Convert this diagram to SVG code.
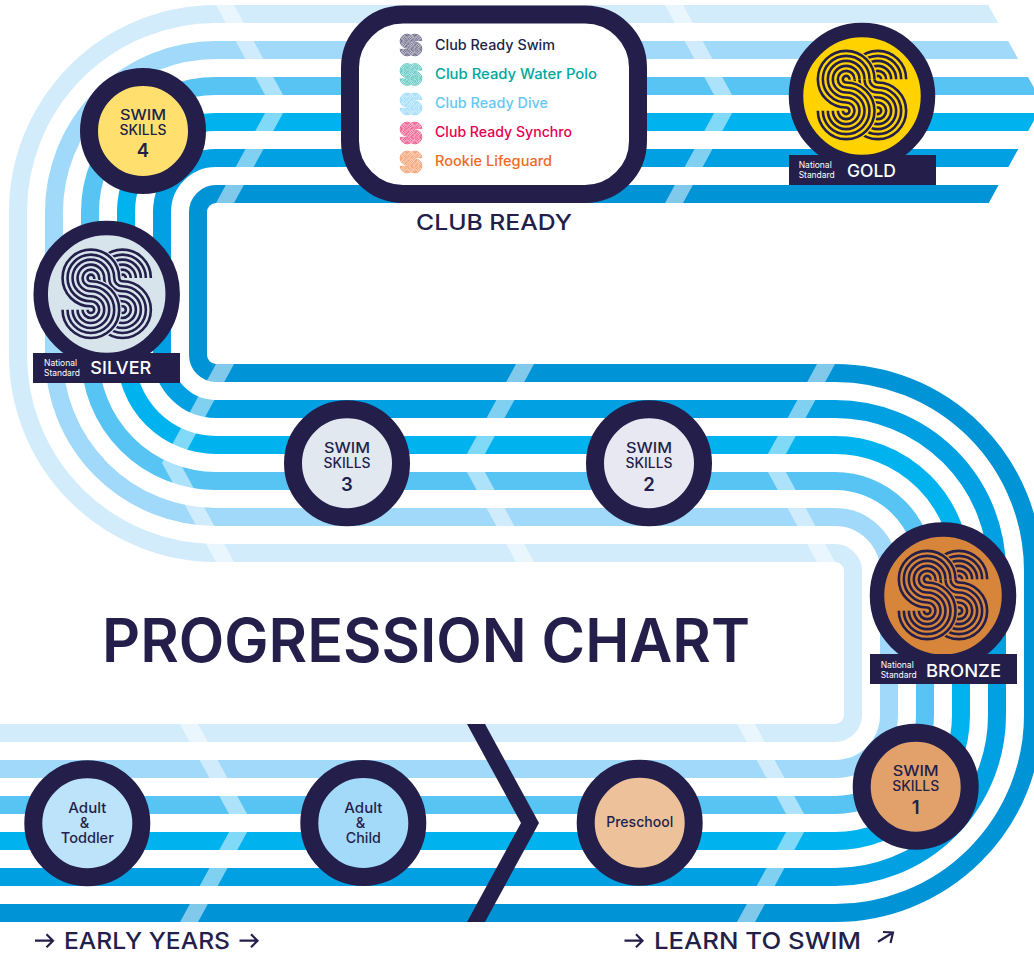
<svg xmlns="http://www.w3.org/2000/svg" width="1034" height="978" viewBox="0 0 1034 978">
<style>
text{font-family:Inter,"Liberation Sans",Arial,sans-serif;fill:#231f4a;font-weight:500}
.m{text-anchor:middle}
.lane{fill:none;stroke-width:18}
.band{fill:#fff;fill-opacity:.5}
.ring{stroke:#231f4a;stroke-width:18}
.medal{stroke:#231f4a;stroke-width:14.5}
.tag{fill:#231f4a}
.sk{font-size:14px}
.num{font-size:18.5px;font-weight:600}
.nd{font-size:14.5px}
.ns{font-size:9px;fill:#fff;font-weight:400}
.mt{font-size:17.5px;fill:#fff}
.leg{font-size:14px}
.cap{font-size:23.5px}
.arr{fill:none;stroke:#231f4a;stroke-width:2.2}
.halo{fill:none;stroke:currentColor;stroke-width:5.3}
.ln{fill:none}
</style>
<defs>
<clipPath id="laneClip"><polygon points="0,0 985.5,0 1043,104 986,208 1034,208 1034,978 0,978"/></clipPath>
<path id="chevR" d="M0,-99 L54,0 L0,99 H18 L72,0 L18,-99Z"/>
<path id="chevL" d="M0,-99 L-54,0 L0,99 H18 L-36,0 L18,-99Z"/>
<path id="arrowE" d="M0,0 H18 M11.5,-6.5 L18,0 L11.5,6.5"/>
<g id="logo">
<path class="ln" d="M19.16,-15.83A3.33,3.33 0 1 0 12.5,-15.83M24.16,-15.83A8.33,8.33 0 1 0 7.5,-15.83M29.16,-15.83A13.33,13.33 0 1 0 2.5,-15.83M34.16,-15.83A18.33,18.33 0 1 0 -2.5,-15.83M39.16,-15.83A23.33,23.33 0 1 0 -7.5,-15.83M44.16,-15.83A28.33,28.33 0 1 0 -12.5,-15.83"/>
<path id="logoMid" class="halo" d="M-12.5,-15.83A28.33,28.33 0 0 0 15.83,12.5A3.33,3.33 0 1 1 12.5,15.83M-7.5,-15.83A23.33,23.33 0 0 0 15.83,7.5A8.33,8.33 0 1 1 7.5,15.83M-2.5,-15.83A18.33,18.33 0 0 0 15.83,2.5A13.33,13.33 0 1 1 2.5,15.83M2.5,-15.83A13.33,13.33 0 0 0 15.83,-2.5A18.33,18.33 0 1 1 -2.5,15.83M7.5,-15.83A8.33,8.33 0 0 0 15.83,-7.5A23.33,23.33 0 1 1 -7.5,15.83M12.5,-15.83A3.33,3.33 0 0 0 15.83,-12.5A28.33,28.33 0 1 1 -12.5,15.83"/>
<path class="ln" d="M-12.5,-15.83A28.33,28.33 0 0 0 15.83,12.5A3.33,3.33 0 1 1 12.5,15.83M-7.5,-15.83A23.33,23.33 0 0 0 15.83,7.5A8.33,8.33 0 1 1 7.5,15.83M-2.5,-15.83A18.33,18.33 0 0 0 15.83,2.5A13.33,13.33 0 1 1 2.5,15.83M2.5,-15.83A13.33,13.33 0 0 0 15.83,-2.5A18.33,18.33 0 1 1 -2.5,15.83M7.5,-15.83A8.33,8.33 0 0 0 15.83,-7.5A23.33,23.33 0 1 1 -7.5,15.83M12.5,-15.83A3.33,3.33 0 0 0 15.83,-12.5A28.33,28.33 0 1 1 -12.5,15.83"/>
<path class="halo" d="M-44.16,15.83A28.33,28.33 0 1 0 -15.83,-12.5A3.33,3.33 0 1 1 -12.5,-15.83M-39.16,15.83A23.33,23.33 0 1 0 -15.83,-7.5A8.33,8.33 0 1 1 -7.5,-15.83M-34.16,15.83A18.33,18.33 0 1 0 -15.83,-2.5A13.33,13.33 0 1 1 -2.5,-15.83M-29.16,15.83A13.33,13.33 0 1 0 -15.83,2.5A18.33,18.33 0 1 1 2.5,-15.83M-24.16,15.83A8.33,8.33 0 1 0 -15.83,7.5A23.33,23.33 0 1 1 7.5,-15.83M-19.16,15.83A3.33,3.33 0 1 0 -15.83,12.5A28.33,28.33 0 1 1 12.5,-15.83"/>
<path class="ln" d="M-44.16,15.83A28.33,28.33 0 1 0 -15.83,-12.5A3.33,3.33 0 1 1 -12.5,-15.83M-39.16,15.83A23.33,23.33 0 1 0 -15.83,-7.5A8.33,8.33 0 1 1 -7.5,-15.83M-34.16,15.83A18.33,18.33 0 1 0 -15.83,-2.5A13.33,13.33 0 1 1 -2.5,-15.83M-29.16,15.83A13.33,13.33 0 1 0 -15.83,2.5A18.33,18.33 0 1 1 2.5,-15.83M-24.16,15.83A8.33,8.33 0 1 0 -15.83,7.5A23.33,23.33 0 1 1 7.5,-15.83M-19.16,15.83A3.33,3.33 0 1 0 -15.83,12.5A28.33,28.33 0 1 1 12.5,-15.83"/>
</g>
</defs>
<rect width="1034" height="978" fill="#fff"/>
<g id="connectors">
<g clip-path="url(#laneClip)">
<path class="lane" stroke="#d3ecfc" d="M0,733H835A18,18 0 0 0 853,715V571A18,18 0 0 0 835,553H216A198,198 0 0 1 18,355V212A198,198 0 0 1 216,14H1045"/>
<path class="lane" stroke="#a0d9f9" d="M0,769H835A54,54 0 0 0 889,715V571A54,54 0 0 0 835,517H216A162,162 0 0 1 54,355V212A162,162 0 0 1 216,50H1045"/>
<path class="lane" stroke="#58c4f4" d="M0,805H835A90,90 0 0 0 925,715V571A90,90 0 0 0 835,481H216A126,126 0 0 1 90,355V212A126,126 0 0 1 216,86H1045"/>
<path class="lane" stroke="#00b2ee" d="M0,841H835A126,126 0 0 0 961,715V571A126,126 0 0 0 835,445H216A90,90 0 0 1 126,355V212A90,90 0 0 1 216,122H1045"/>
<path class="lane" stroke="#00a0e3" d="M0,877H835A162,162 0 0 0 997,715V571A162,162 0 0 0 835,409H216A54,54 0 0 1 162,355V212A54,54 0 0 1 216,158H1045"/>
<path class="lane" stroke="#0093d5" d="M0,913H835A198,198 0 0 0 1033,715V571A198,198 0 0 0 835,373H216A18,18 0 0 1 198,355V212A18,18 0 0 1 216,194H1045"/>
</g>
<g id="bands">
<use href="#chevR" class="band" x="216" y="104"/>
<use href="#chevR" class="band" x="665" y="104"/>
<use href="#chevL" class="band" x="216" y="463"/>
<use href="#chevL" class="band" x="516" y="463"/>
<use href="#chevL" class="band" x="817" y="463"/>
<use href="#chevR" class="band" x="180" y="823"/>
<use href="#chevR" class="band" x="737" y="823"/>
</g>
<path id="divider" fill="#231f4a" d="M467,724H485L539,823L485,922H467L521,823Z"/>
</g>
<g id="club-ready">
<rect x="350" y="14.5" width="288" height="179.5" rx="53" fill="#fff" stroke="#231f4a" stroke-width="18"/>
<use href="#logo" stroke="#231f4a" stroke-width="2.6" color="#fff" transform="translate(411 45) scale(.245)"/>
<use href="#logo" stroke="#00a79d" stroke-width="2.6" color="#fff" transform="translate(411 74.5) scale(.245)"/>
<use href="#logo" stroke="#66c7f4" stroke-width="2.6" color="#fff" transform="translate(411 104) scale(.245)"/>
<use href="#logo" stroke="#e5004f" stroke-width="2.6" color="#fff" transform="translate(411 133) scale(.245)"/>
<use href="#logo" stroke="#ee6a1f" stroke-width="2.6" color="#fff" transform="translate(411 162) scale(.245)"/>
<text class="leg" x="435" y="50" textLength="120" lengthAdjust="spacingAndGlyphs">Club Ready Swim</text>
<text class="leg" x="435" y="78.7" textLength="162" lengthAdjust="spacingAndGlyphs" style="fill:#00a79d">Club Ready Water Polo</text>
<text class="leg" x="435" y="107.7" textLength="113" lengthAdjust="spacingAndGlyphs" style="fill:#66c7f4">Club Ready Dive</text>
<text class="leg" x="435" y="136.7" textLength="137" lengthAdjust="spacingAndGlyphs" style="fill:#e5004f">Club Ready Synchro</text>
<text class="leg" x="435" y="166" textLength="117" lengthAdjust="spacingAndGlyphs" style="fill:#ee6a1f">Rookie Lifeguard</text>
<text class="m" x="494" y="230" font-size="22" textLength="156" lengthAdjust="spacingAndGlyphs">CLUB READY</text>
</g>
<g id="swim-skills-4">
<circle class="ring" cx="143" cy="131" r="54" fill="#ffe06e"/>
<text class="m sk" x="143" y="120" textLength="46" lengthAdjust="spacingAndGlyphs">SWIM</text>
<text class="m sk" x="143" y="135" textLength="47" lengthAdjust="spacingAndGlyphs">SKILLS</text>
<text class="m num" x="143" y="157">4</text>
</g>
<g id="national-silver">
<circle class="medal" cx="106.7" cy="294" r="66" fill="#d8e4ec"/>
<use href="#logo" stroke="#231f4a" stroke-width="2.6" color="#d8e4ec" transform="translate(106.7 293.8)"/>
<rect class="tag" x="33" y="353" width="147" height="30"/>
<text class="ns" x="44" y="366" textLength="33" lengthAdjust="spacingAndGlyphs">National</text>
<text class="ns" x="44" y="376" textLength="36" lengthAdjust="spacingAndGlyphs">Standard</text>
<text class="mt" x="90.3" y="374.3" textLength="61" lengthAdjust="spacingAndGlyphs">SILVER</text>
</g>
<g id="national-gold">
<circle class="medal" cx="862" cy="96" r="66" fill="#ffd200"/>
<use href="#logo" stroke="#231f4a" stroke-width="2.6" color="#ffd200" transform="translate(862 95)"/>
<rect class="tag" x="789" y="155" width="147" height="30"/>
<text class="ns" x="798.7" y="168" textLength="33" lengthAdjust="spacingAndGlyphs">National</text>
<text class="ns" x="798.7" y="178" textLength="36" lengthAdjust="spacingAndGlyphs">Standard</text>
<text class="mt" x="847" y="176.7" textLength="49" lengthAdjust="spacingAndGlyphs">GOLD</text>
</g>
<g id="national-bronze">
<circle class="medal" cx="943" cy="595.6" r="66" fill="#d6853a"/>
<use href="#logo" stroke="#231f4a" stroke-width="2.6" color="#d6853a" transform="translate(943 595)"/>
<rect class="tag" x="870" y="654" width="147" height="30"/>
<text class="ns" x="880.7" y="667.7" textLength="33" lengthAdjust="spacingAndGlyphs">National</text>
<text class="ns" x="880.7" y="678" textLength="36" lengthAdjust="spacingAndGlyphs">Standard</text>
<text class="mt" x="926" y="676.7" textLength="75" lengthAdjust="spacingAndGlyphs">BRONZE</text>
</g>
<g id="swim-skills-3">
<circle class="ring" cx="347" cy="463.3" r="54" fill="#e1e8f0"/>
<text class="m sk" x="347" y="453" textLength="46" lengthAdjust="spacingAndGlyphs">SWIM</text>
<text class="m sk" x="347" y="468" textLength="47" lengthAdjust="spacingAndGlyphs">SKILLS</text>
<text class="m num" x="347" y="490.7">3</text>
</g>
<g id="swim-skills-2">
<circle class="ring" cx="649" cy="463.3" r="54" fill="#e7e8f2"/>
<text class="m sk" x="649" y="453" textLength="46" lengthAdjust="spacingAndGlyphs">SWIM</text>
<text class="m sk" x="649" y="468" textLength="47" lengthAdjust="spacingAndGlyphs">SKILLS</text>
<text class="m num" x="649" y="490.7">2</text>
</g>
<g id="swim-skills-1">
<circle class="ring" cx="915.7" cy="786.7" r="54" fill="#e2a06b"/>
<text class="m sk" x="915.7" y="776" textLength="46" lengthAdjust="spacingAndGlyphs">SWIM</text>
<text class="m sk" x="915.7" y="791" textLength="47" lengthAdjust="spacingAndGlyphs">SKILLS</text>
<text class="m num" x="915.7" y="814">1</text>
</g>
<g id="adult-toddler">
<circle class="ring" cx="87.3" cy="823.3" r="54" fill="#bde3fa"/>
<text class="m nd" x="87.3" y="813" textLength="38" lengthAdjust="spacingAndGlyphs">Adult</text>
<text class="m nd" x="84.5" y="828">&amp;</text>
<text class="m nd" x="87.3" y="843" textLength="53" lengthAdjust="spacingAndGlyphs">Toddler</text>
</g>
<g id="adult-child">
<circle class="ring" cx="363.3" cy="823" r="54" fill="#a3d9f9"/>
<text class="m nd" x="363.3" y="813" textLength="38" lengthAdjust="spacingAndGlyphs">Adult</text>
<text class="m nd" x="360.5" y="828">&amp;</text>
<text class="m nd" x="363.3" y="843" textLength="35" lengthAdjust="spacingAndGlyphs">Child</text>
</g>
<g id="preschool">
<circle class="ring" cx="639.7" cy="822.7" r="54" fill="#edc29b"/>
<text class="m nd" x="639.7" y="826.7" textLength="67" lengthAdjust="spacingAndGlyphs">Preschool</text>
</g>
<g id="title">
<text x="102" y="662" font-size="60" style="font-weight:600" textLength="648" lengthAdjust="spacingAndGlyphs">PROGRESSION CHART</text>
</g>
<g id="captions">
<use href="#arrowE" class="arr" x="35" y="940.7"/>
<text class="cap" x="64" y="949.3" textLength="166" lengthAdjust="spacingAndGlyphs">EARLY YEARS</text>
<use href="#arrowE" class="arr" x="239.5" y="940.7"/>
<use href="#arrowE" class="arr" x="624.5" y="940.7"/>
<text class="cap" x="654" y="949.3" textLength="207" lengthAdjust="spacingAndGlyphs">LEARN TO SWIM</text>
<path class="arr" d="M878,941.7L893,932.5M883,932L893,932.5L890.5,943"/>
</g>
</svg>
